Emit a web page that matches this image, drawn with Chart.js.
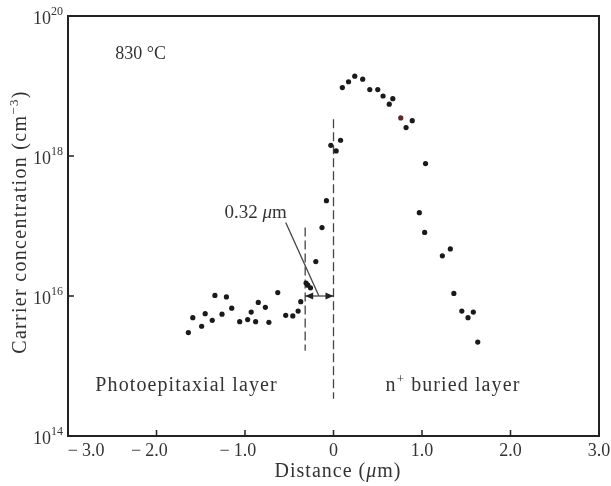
<!DOCTYPE html>
<html>
<head>
<meta charset="utf-8">
<script src="https://cdn.jsdelivr.net/npm/chart.js@4"></script>
<style>
  html, body { margin: 0; padding: 0; background: #fff; }
  #wrap { width: 611px; height: 486px; }
</style>
</head>
<body>
<div id="wrap"><canvas id="profileChart" width="611" height="486"></canvas></div>
<script>
// measured points: distance (um) and carrier concentration (cm^-3)
const distance = [
  -1.64, -1.59, -1.49, -1.45, -1.37, -1.34, -1.26, -1.21, -1.15, -1.06,
  -0.97, -0.93, -0.88, -0.85, -0.77, -0.73, -0.63, -0.54, -0.46, -0.40,
  -0.37, -0.31, -0.29, -0.26, -0.20, -0.13, -0.08, -0.03, 0.03, 0.08,
  0.10, 0.17, 0.24, 0.33, 0.41, 0.50, 0.56, 0.63, 0.67, 0.76,
  0.82, 0.89, 1.04, 0.97, 1.03, 1.23, 1.32, 1.36, 1.45, 1.52,
  1.58, 1.63
];
const concentration = [
  3.0e15, 4.9e15, 3.7e15, 5.6e15, 4.5e15, 1.02e16, 5.5e15, 9.7e15, 6.7e15, 4.3e15,
  4.6e15, 5.9e15, 4.3e15, 8.1e15, 6.9e15, 4.2e15, 1.12e16, 5.3e15, 5.2e15, 6.1e15,
  8.3e15, 1.53e16, 1.43e16, 1.31e16, 3.1e16, 9.5e16, 2.3e17, 1.42e18, 1.18e18, 1.68e18,
  9.5e18, 1.15e19, 1.38e19, 1.25e19, 8.9e18, 8.9e18, 7.2e18, 5.5e18, 6.6e18, 3.5e18,
  2.55e18, 3.2e18, 7.8e17, 1.55e17, 8.1e16, 3.75e16, 4.7e16, 1.09e16, 6.1e15, 4.9e15,
  5.9e15, 2.2e15
];

// axis ticks
const xTicks = [-3, -2, -1, 0, 1, 2, 3];
const xTickLabels = ['\u22123.0', '\u22122.0', '\u22121.0', '0', '1.0', '2.0', '3.0'];
const yTicks = [1e14, 1e16, 1e18, 1e20];
const yTickExponents = ['14', '16', '18', '20'];

// guide lines on the plot
const junctionLine = [{ x: 0, y: 3.35e18 }, { x: 0, y: 3.4e14 }];
const edgeLine = [{ x: -0.32, y: 9.5e16 }, { x: -0.32, y: 1.65e15 }];
const widthArrow = [{ x: -0.32, y: 1e16 }, { x: 0, y: 1e16 }];
const leaderLine = [{ x: -0.54, y: 1.12e17 }, { x: -0.166, y: 1.01e16 }];

const serif = '"Liberation Serif", "Times New Roman", serif';
const textColor = '#333';
const axisColor = '#222';

// draw a row of text pieces (font, raise) centred on cx, on baseline by
function drawRuns(ctx, runs, cx, by, spacing) {
  ctx.letterSpacing = spacing + 'px';
  let total = 0;
  runs.forEach(r => { ctx.font = r.font; r.w = ctx.measureText(r.text).width; total += r.w; });
  let x = cx - total / 2;
  ctx.textAlign = 'left';
  ctx.textBaseline = 'alphabetic';
  runs.forEach(r => { ctx.font = r.font; ctx.fillText(r.text, x, by - (r.up || 0)); x += r.w; });
  ctx.letterSpacing = '0px';
}

// box, inward ticks, tick labels, arrow heads and text labels
const framePlugin = {
  id: 'frame',
  afterDraw(chart) {
    const { ctx, chartArea: a, scales } = chart;
    const xs = scales.x, ys = scales.y;
    ctx.save();
    ctx.strokeStyle = axisColor;
    ctx.lineWidth = 2;
    ctx.strokeRect(a.left, a.top, a.right - a.left, a.bottom - a.top);

    ctx.lineWidth = 1.5;
    ctx.beginPath();
    xTicks.forEach(v => {
      const px = xs.getPixelForValue(v);
      ctx.moveTo(px, a.bottom);
      ctx.lineTo(px, a.bottom - 6);
    });
    yTicks.forEach(v => {
      const py = ys.getPixelForValue(v);
      ctx.moveTo(a.left, py);
      ctx.lineTo(a.left + 6, py);
    });
    ctx.stroke();

    // arrow heads on the width marker
    ctx.fillStyle = axisColor;
    const ay = ys.getPixelForValue(widthArrow[0].y);
    const x1 = xs.getPixelForValue(widthArrow[0].x);
    const x2 = xs.getPixelForValue(widthArrow[1].x);
    ctx.beginPath();
    ctx.moveTo(x1, ay); ctx.lineTo(x1 + 8, ay - 3.5); ctx.lineTo(x1 + 8, ay + 3.5); ctx.closePath();
    ctx.moveTo(x2, ay); ctx.lineTo(x2 - 8, ay - 3.5); ctx.lineTo(x2 - 8, ay + 3.5); ctx.closePath();
    ctx.fill();

    ctx.fillStyle = textColor;
    const f = (size, style) => (style || '') + ' ' + size + 'px ' + serif;

    // x tick labels: number centred on the tick, minus sign hanging left
    ctx.font = f(18);
    ctx.textBaseline = 'alphabetic';
    xTicks.forEach((v, i) => {
      let px = xs.getPixelForValue(v);
      const lab = xTickLabels[i];
      const neg = lab.startsWith('\u2212');
      const num = neg ? lab.slice(1) : lab;
      const w = ctx.measureText(num).width;
      if (i === 0) px = a.left + 14 + w / 2;
      ctx.textAlign = 'center';
      ctx.fillText(num, px, a.bottom + 20);
      if (neg) {
        ctx.textAlign = 'right';
        ctx.fillText('\u2212', px - w / 2 - 4, a.bottom + 20);
      }
    });

    // y tick labels: 10 with raised exponent
    yTicks.forEach((v, i) => {
      const py = ys.getPixelForValue(v);
      ctx.textAlign = 'right';
      ctx.font = f(12);
      const ew = ctx.measureText(yTickExponents[i]).width;
      ctx.fillText(yTickExponents[i], a.left - 5, py - 1);
      ctx.font = f(18);
      ctx.fillText('10', a.left - 5 - ew, py + 8);
    });

    // axis titles
    drawRuns(ctx, [
      { text: 'Distance (', font: f(20) },
      { text: '\u03bc', font: f(20, 'italic') },
      { text: 'm)', font: f(20) }
    ], 338, 477, 1);
    ctx.save();
    ctx.translate(26, 222);
    ctx.rotate(-Math.PI / 2);
    drawRuns(ctx, [
      { text: 'Carrier concentration (cm', font: f(20) },
      { text: '\u22123', font: f(13), up: 8 },
      { text: ')', font: f(20) }
    ], 0, 0, 1.3);
    ctx.restore();

    // annotations
    const at = (x, y) => [xs.getPixelForValue(x), ys.getPixelForValue(y)];
    let p = at(-2.18, 2.95e19);
    drawRuns(ctx, [{ text: '830 \u00b0C', font: f(18) }], p[0], p[1] + 6, 0);
    p = at(-0.88, 1.56e17);
    drawRuns(ctx, [
      { text: '0.32 ', font: f(19) },
      { text: '\u03bc', font: f(19, 'italic') },
      { text: 'm', font: f(19) }
    ], p[0], p[1] + 6, 0);
    p = at(-1.66, 5.4e14);
    drawRuns(ctx, [{ text: 'Photoepitaxial layer', font: f(20) }], p[0], p[1] + 6, 1.1);
    p = at(1.35, 5.4e14);
    drawRuns(ctx, [
      { text: 'n', font: f(20) },
      { text: '+', font: f(13), up: 8 },
      { text: ' buried layer', font: f(20) }
    ], p[0], p[1] + 6, 1.1);
    ctx.restore();
  }
};

const dotColors = distance.map((d, i) => i === 39 ? '#5a2a2a' : '#1a1a1a');

const guide = (data, dash) => ({
  type: 'line',
  data: data,
  borderColor: '#444',
  borderWidth: 1.3,
  borderDash: dash,
  pointRadius: 0,
  fill: false
});

new Chart(document.getElementById('profileChart').getContext('2d'), {
  type: 'scatter',
  data: {
    datasets: [
      {
        label: 'Carrier concentration',
        data: distance.map((d, i) => ({ x: d, y: concentration[i] })),
        pointRadius: 2.6,
        pointBackgroundColor: dotColors,
        pointBorderWidth: 0
      },
      guide(junctionLine, [9, 4]),
      guide(edgeLine, [9, 4]),
      guide(widthArrow, []),
      guide(leaderLine, [])
    ]
  },
  options: {
    responsive: false,
    animation: false,
    devicePixelRatio: 1,
    layout: { padding: { top: 16, right: 12, left: 0, bottom: 0 } },
    plugins: { legend: { display: false }, tooltip: { enabled: false } },
    scales: {
      x: {
        type: 'linear',
        min: -3,
        max: 3,
        afterBuildTicks: s => { s.ticks = xTicks.map(v => ({ value: v })); },
        afterFit: s => { s.height = 50; },
        grid: { display: false },
        border: { display: false },
        ticks: { display: false }
      },
      y: {
        type: 'logarithmic',
        min: 1e14,
        max: 1e20,
        afterBuildTicks: s => { s.ticks = yTicks.map(v => ({ value: v })); },
        afterFit: s => { s.width = 68; },
        grid: { display: false },
        border: { display: false },
        ticks: { display: false }
      }
    }
  },
  plugins: [framePlugin]
});
</script>
</body>
</html>
